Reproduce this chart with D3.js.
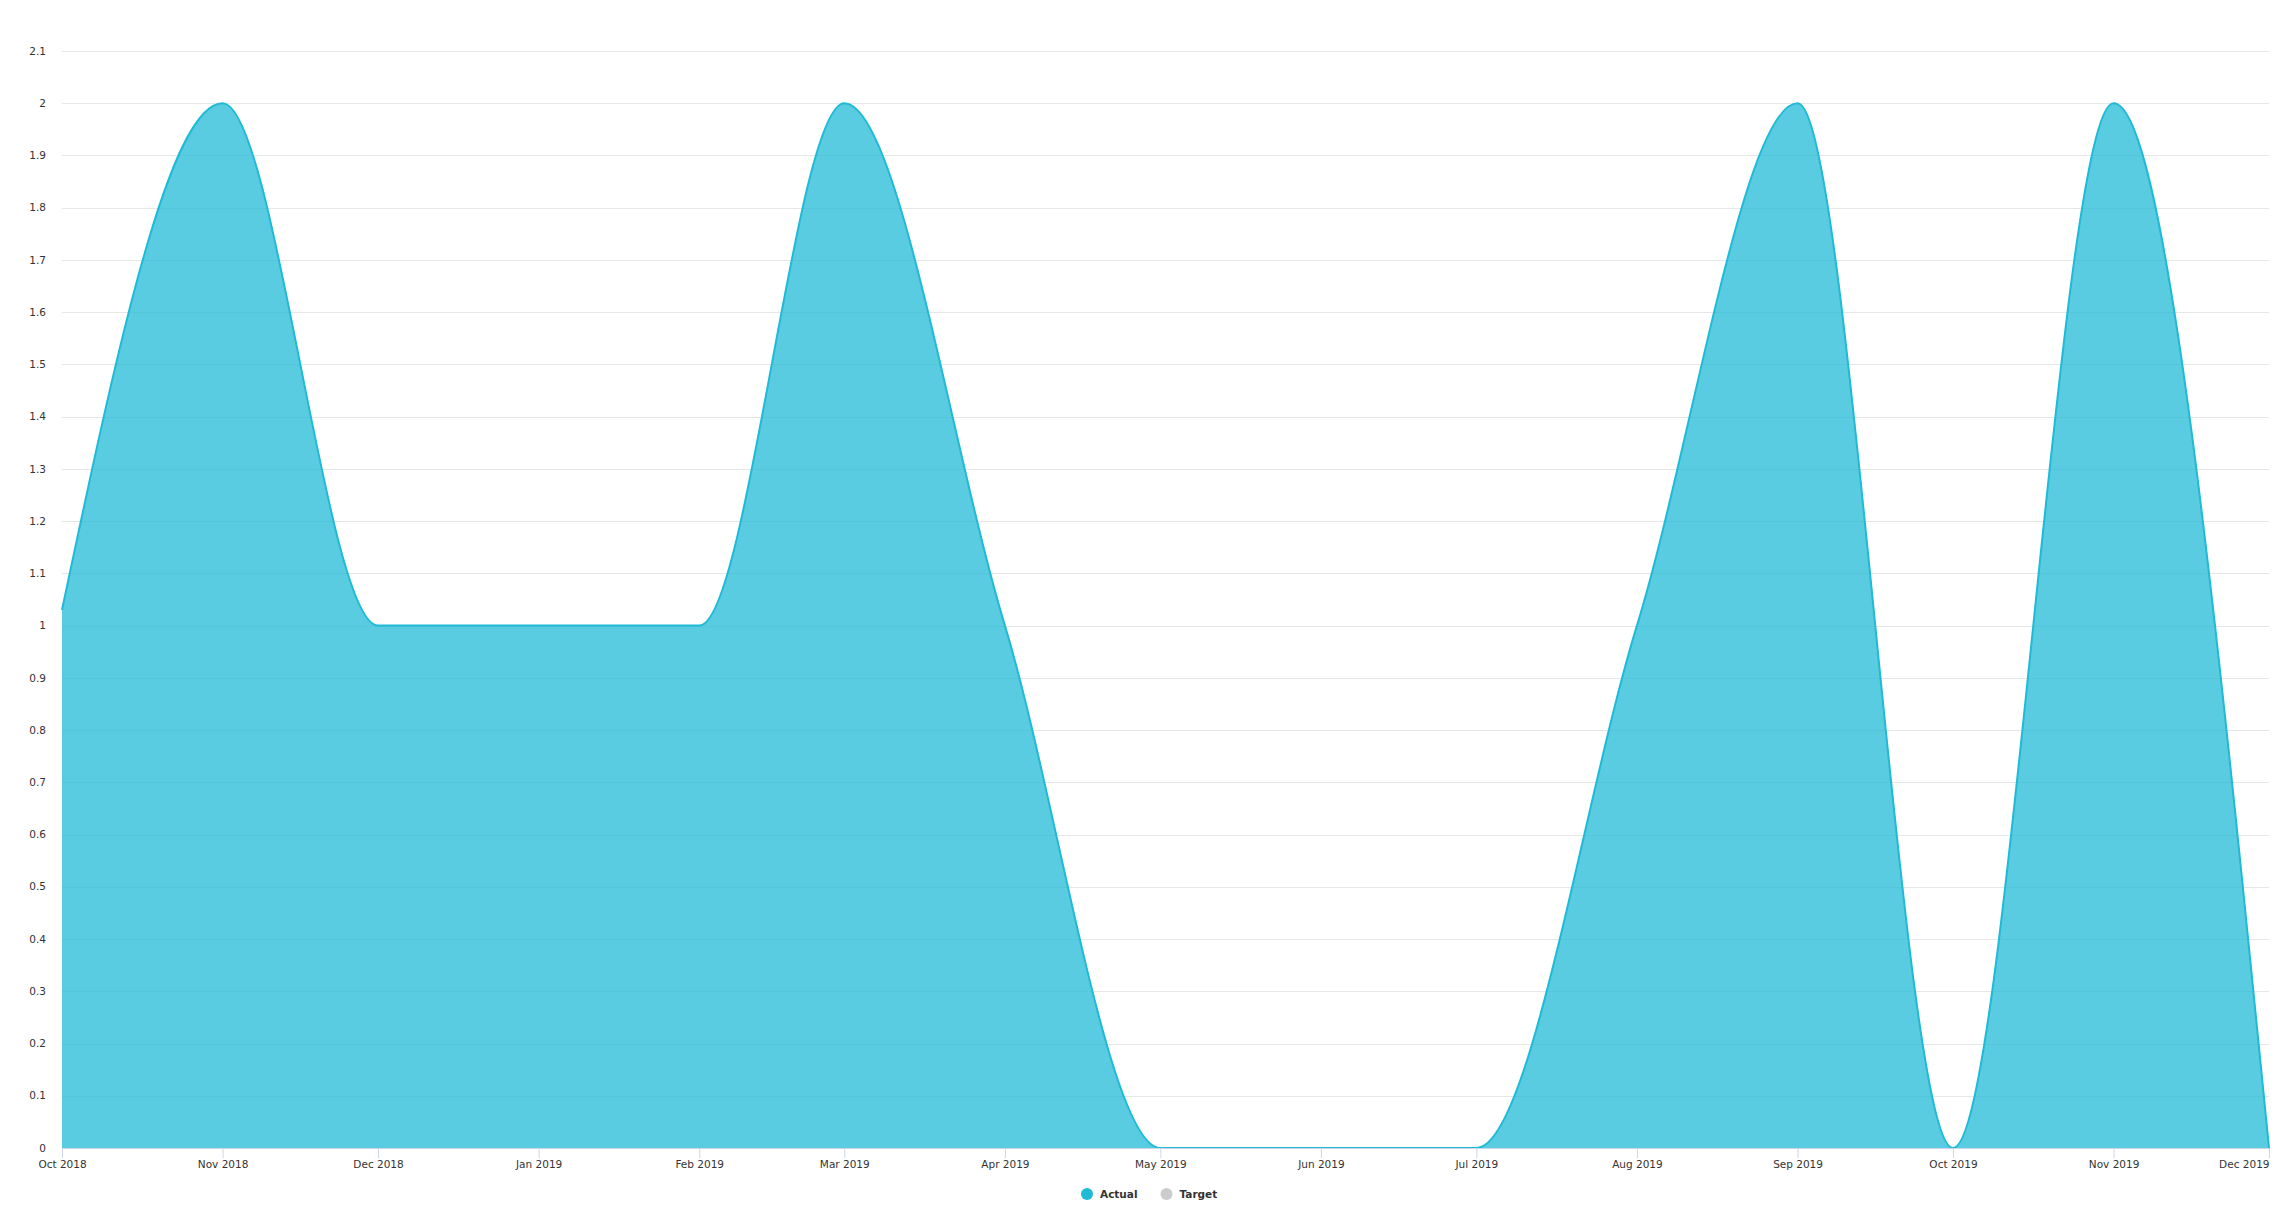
<!DOCTYPE html>
<html>
<head>
<meta charset="utf-8">
<script src="https://cdn.jsdelivr.net/npm/d3@7"></script>
<style>
  body { margin: 0; background: #fff; }
  text { font-family: "DejaVu Sans", sans-serif; }
</style>
</head>
<body>
<div id="chart-area"></div>
<script>
// data (monthly)
var months = ["2018-10-01", "2018-11-01", "2018-12-01", "2019-01-01", "2019-02-01",
	"2019-03-01", "2019-04-01", "2019-05-01", "2019-06-01", "2019-07-01",
	"2019-08-01", "2019-09-01", "2019-10-01", "2019-11-01", "2019-12-01"];
var actual = [1.03, 2, 1, 1, 1, 2, 1, 0, 0, 0, 1, 2, 0, 2, 0];
var yTicks = [0, 0.1, 0.2, 0.3, 0.4, 0.5, 0.6, 0.7, 0.8, 0.9, 1, 1.1, 1.2, 1.3, 1.4, 1.5, 1.6, 1.7, 1.8, 1.9, 2, 2.1];
var seriesNames = ["Actual", "Target"];
var seriesColors = ["#1fbad6", "#cccccc"];

var width = 2292;
var height = 1217;
var margin = {top: 51, right: 23, bottom: 69, left: 62};
var w = width - margin.left - margin.right;
var h = height - margin.top - margin.bottom;

var parse = d3.timeParse("%Y-%m-%d");
var data = months.map(function(m, i) { return {date: parse(m), value: actual[i]}; });

var svg = d3.select("#chart-area").append("svg")
	.attr("width", width)
	.attr("height", height);

var g = svg.append("g")
	.attr("transform", "translate(" + margin.left + ", " + margin.top + ")");

var x = d3.scaleTime()
	.domain(d3.extent(data, function(d) { return d.date; }))
	.range([0, w]);

var y = d3.scaleLinear()
	.domain([0, 2.1])
	.range([h, 0]);

// grid
g.append("g").selectAll("line")
	.data(yTicks)
	.enter().append("line")
		.attr("x1", 0)
		.attr("x2", w)
		.attr("y1", function(d) { return Math.round(y(d)) + 0.5; })
		.attr("y2", function(d) { return Math.round(y(d)) + 0.5; })
		.attr("stroke", "#e6e6e6")
		.attr("stroke-width", 1);

// y labels
g.append("g").selectAll("text")
	.data(yTicks)
	.enter().append("text")
		.attr("x", -16)
		.attr("y", function(d) { return y(d); })
		.attr("dy", "0.35em")
		.attr("text-anchor", "end")
		.attr("font-size", "10.5px")
		.attr("fill", "#333")
		.text(function(d) { return d3.format("~g")(d); });

// area
var area = d3.area()
	.x(function(d) { return x(d.date); })
	.y0(h)
	.y1(function(d) { return y(d.value); })
	.curve(d3.curveMonotoneX);

var line = d3.line()
	.x(function(d) { return x(d.date); })
	.y(function(d) { return y(d.value); })
	.curve(d3.curveMonotoneX);

g.append("path")
	.datum(data)
	.attr("d", area)
	.attr("fill", seriesColors[0])
	.attr("fill-opacity", 0.74);

g.append("path")
	.datum(data)
	.attr("d", line)
	.attr("fill", "none")
	.attr("stroke", seriesColors[0])
	.attr("stroke-width", 2);

// x axis
var xAxisCall = d3.axisBottom(x)
	.tickValues(data.map(function(d) { return d.date; }))
	.tickFormat(d3.timeFormat("%b %Y"))
	.tickSizeOuter(0)
	.tickSize(10)
	.tickPadding(3);

var xAxis = g.append("g")
	.attr("class", "bottom axis")
	.attr("transform", "translate(0, " + h + ")")
	.call(xAxisCall);

xAxis.select(".domain").attr("stroke", "#ccd6eb");
xAxis.selectAll(".tick line").attr("stroke", "#ccd6eb");
xAxis.selectAll("text")
	.attr("font-family", "DejaVu Sans, sans-serif")
	.attr("font-size", "10.5px")
	.attr("fill", "#333");
// keep the last label inside the chart
xAxis.selectAll("text")
	.attr("text-anchor", function(d, i) { return i === data.length - 1 ? "end" : "middle"; });

// legend
var legend = svg.append("g")
	.attr("transform", "translate(0, 1194)");

var lx = 1081;
seriesNames.forEach(function(name, i) {
	legend.append("circle")
		.attr("cx", lx + 6)
		.attr("cy", 0)
		.attr("r", 6)
		.attr("fill", seriesColors[i]);
	var t = legend.append("text")
		.attr("x", lx + 19)
		.attr("y", 0)
		.attr("dy", "0.35em")
		.attr("font-size", "10.5px")
		.attr("font-weight", "bold")
		.attr("fill", "#333")
		.text(name);
	lx += 19 + t.node().getComputedTextLength() + 23;
});
</script>
</body>
</html>
